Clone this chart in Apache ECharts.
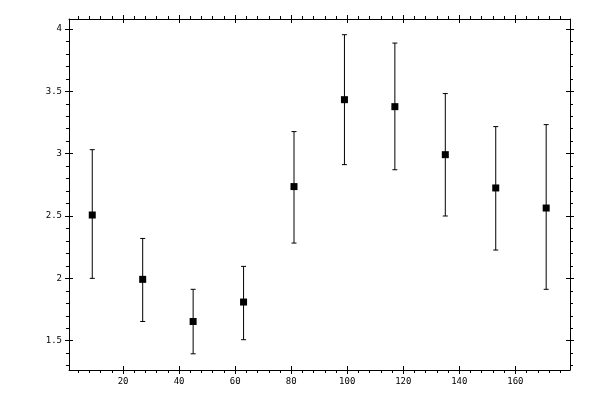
<!DOCTYPE html>
<html>
<head>
<meta charset="utf-8">
<script src="https://cdn.jsdelivr.net/npm/echarts@6/dist/echarts.min.js"></script>
<style>
  html, body { margin: 0; padding: 0; background: #fff; }
  #main { width: 600px; height: 400px; }
</style>
</head>
<body>
<div id="main"></div>
<script>
// data
const xs = [9, 27, 45, 63, 81, 99, 117, 135, 153, 171];
const ys = [2.508, 1.992, 1.654, 1.81, 2.736, 3.433, 3.377, 2.992, 2.725, 2.564];
const yLow = [2.0, 1.654, 1.395, 1.508, 2.283, 2.912, 2.871, 2.5, 2.227, 1.912];
const yHigh = [3.032, 2.32, 1.912, 2.096, 3.177, 3.954, 3.887, 3.482, 3.217, 3.233];

// axis ticks
const xMajor = [20, 40, 60, 80, 100, 120, 140, 160];
const xMinor = [4, 8, 12, 16, 24, 28, 32, 36, 44, 48, 52, 56, 64, 68, 72, 76,
  84, 88, 92, 96, 104, 108, 112, 116, 124, 128, 132, 136, 144, 148, 152, 156,
  164, 168, 172, 176];
const yMajor = [1.5, 2, 2.5, 3, 3.5, 4];
const yMinor = [1.3, 1.4, 1.6, 1.7, 1.8, 1.9, 2.1, 2.2, 2.3, 2.4, 2.6, 2.7, 2.8,
  2.9, 3.1, 3.2, 3.3, 3.4, 3.6, 3.7, 3.8, 3.9, 4.0];

const xMin = 0.7, xMax = 179.5;
const yMin = 1.265, yMax = 4.08;

const font = { fontFamily: 'DejaVu Sans Mono', fontSize: 9, color: '#000' };
const black = { color: '#000', width: 1 };

// one axis per tick set / direction, all sharing the same scale
function makeAxes(pos, min, max, major, minor, showLabels) {
  const base = { type: 'value', position: pos, min: min, max: max,
    splitLine: { show: false }, axisLine: { show: false },
    axisLabel: { show: false } };
  return [
    Object.assign({}, base, {
      axisLine: { show: true, lineStyle: black },
      axisTick: { show: true, inside: false, length: 4, lineStyle: black, customValues: major },
      axisLabel: showLabels ? Object.assign({ show: true, margin: 7, customValues: major,
        formatter: v => String(v) }, font) : { show: false }
    }),
    Object.assign({}, base, {
      axisTick: { show: true, inside: true, length: 4, lineStyle: black, customValues: major }
    }),
    Object.assign({}, base, {
      axisTick: { show: true, inside: false, length: 3, lineStyle: black, customValues: minor }
    })
  ];
}

const xAxes = makeAxes('bottom', xMin, xMax, xMajor, xMinor, true)
  .concat(makeAxes('top', xMin, xMax, xMajor, xMinor, false));
const yAxes = makeAxes('left', yMin, yMax, yMajor, yMinor, true)
  .concat(makeAxes('right', yMin, yMax, yMajor, yMinor, false));

const points = xs.map((x, i) => [x, ys[i]]);
const bars = xs.map((x, i) => [x, yLow[i], yHigh[i]]);

const chart = echarts.init(document.getElementById('main'), null, { renderer: 'canvas' });
chart.setOption({
  animation: false,
  backgroundColor: '#fff',
  grid: { left: 69, top: 19, right: 30, bottom: 30, containLabel: false },
  xAxis: xAxes,
  yAxis: yAxes,
  series: [
    {
      type: 'custom',
      xAxisIndex: 0, yAxisIndex: 0,
      data: bars,
      renderItem: function (params, api) {
        const lo = api.coord([api.value(0), api.value(1)]);
        const hi = api.coord([api.value(0), api.value(2)]);
        const cap = 2.5;
        const style = { stroke: '#000', lineWidth: 1 };
        return {
          type: 'group',
          children: [
            { type: 'line', shape: { x1: lo[0], y1: lo[1], x2: hi[0], y2: hi[1] }, style: style },
            { type: 'line', shape: { x1: lo[0] - cap, y1: lo[1], x2: lo[0] + cap, y2: lo[1] }, style: style },
            { type: 'line', shape: { x1: hi[0] - cap, y1: hi[1], x2: hi[0] + cap, y2: hi[1] }, style: style }
          ]
        };
      },
      z: 2
    },
    {
      type: 'scatter',
      xAxisIndex: 0, yAxisIndex: 0,
      data: points,
      symbol: 'rect',
      symbolSize: 7,
      itemStyle: { color: '#000', opacity: 1 },
      z: 3
    }
  ]
});
</script>
</body>
</html>
